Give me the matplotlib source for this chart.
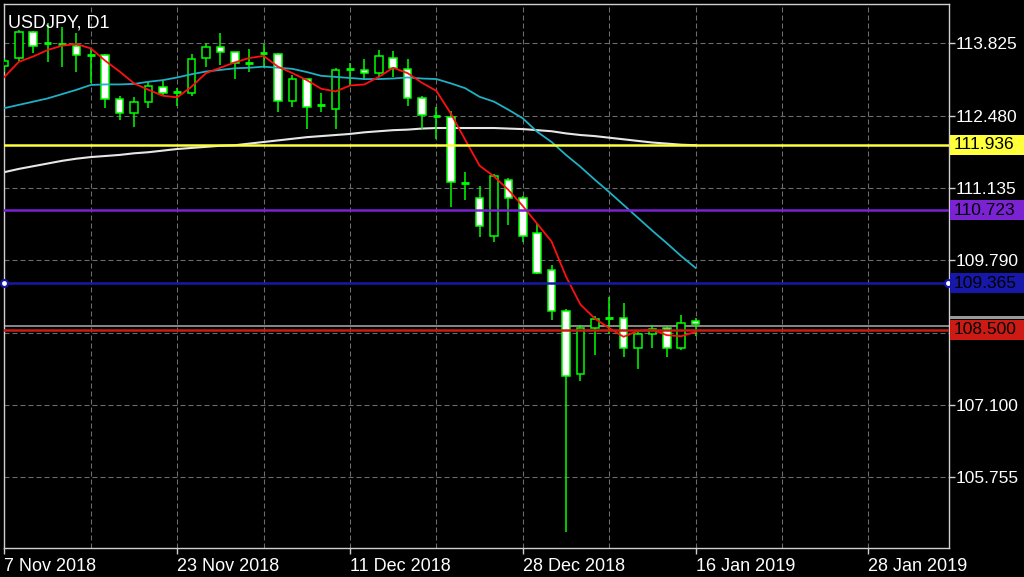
import matplotlib
matplotlib.use("Agg")
import matplotlib.pyplot as plt
from matplotlib.patches import Rectangle
from matplotlib.transforms import blended_transform_factory
import numpy as np

plt.rcParams['font.family'] = ['Liberation Sans', 'DejaVu Sans']

# ---------------- data ----------------
title = "USDJPY, D1"
opens  = [113.40,113.55,114.04,113.82,113.81,113.78,113.61,113.61,112.78,112.53,
          112.74,113.02,112.91,112.90,113.55,113.75,113.66,113.45,113.63,113.63,
          112.76,113.16,112.67,112.60,113.33,113.33,113.27,113.56,113.34,112.80,
          112.46,112.45,111.22,110.94,110.25,111.28,110.94,110.29,109.62,108.85,
          107.67,108.53,108.71,108.71,108.17,108.42,108.53,108.16,108.66]
highs  = [113.55,114.07,114.06,114.20,114.13,114.01,113.73,113.63,112.85,112.83,
          113.13,113.13,112.99,113.62,113.83,114.01,113.67,113.71,113.81,113.64,
          113.24,113.17,112.91,113.36,113.46,113.53,113.70,113.68,113.53,112.84,
          112.64,112.57,111.43,111.18,111.39,111.33,110.99,110.46,109.70,108.88,
          108.59,108.76,109.10,108.99,108.50,108.58,108.56,108.77,108.71]
lows   = [113.30,113.50,113.64,113.48,113.39,113.30,113.08,112.62,112.40,112.27,
          112.63,112.86,112.65,112.85,113.39,113.42,113.16,113.29,113.36,112.55,
          112.64,112.23,112.55,112.23,113.05,113.14,113.20,113.20,112.66,112.23,
          112.05,110.79,110.91,110.23,110.13,110.45,110.14,109.53,108.68,104.75,
          107.54,108.03,108.43,107.99,107.78,108.16,108.00,108.12,108.38]
closes = [113.50,114.03,113.78,113.84,113.82,113.61,113.62,112.79,112.53,112.73,
          113.03,112.91,112.92,113.53,113.75,113.66,113.45,113.46,113.64,112.76,
          113.16,112.64,112.68,113.32,113.35,113.28,113.59,113.36,112.80,112.49,
          112.47,111.25,111.23,110.42,111.35,110.94,110.25,109.55,108.85,107.65,
          108.53,108.70,108.72,108.17,108.42,108.51,108.16,108.62,108.61]

ma_red = [113.20,113.48,113.58,113.70,113.78,113.81,113.73,113.50,113.30,113.08,
          112.96,112.85,112.82,113.02,113.27,113.37,113.47,113.55,113.59,113.39,
          113.27,113.14,112.98,112.93,113.04,113.06,113.20,113.37,113.27,113.09,
          112.94,112.52,112.03,111.55,111.35,111.10,110.80,110.47,110.14,109.49,
          108.97,108.71,108.53,108.37,108.48,108.50,108.40,108.38,108.46]
ma_cyan = [112.62,112.68,112.74,112.80,112.88,112.96,113.05,113.06,113.06,113.07,
           113.11,113.14,113.19,113.25,113.30,113.33,113.36,113.37,113.39,113.37,
           113.35,113.29,113.22,113.20,113.18,113.16,113.16,113.17,113.19,113.17,
           113.16,113.08,112.99,112.83,112.74,112.59,112.43,112.18,111.99,111.75,
           111.53,111.29,111.06,110.82,110.58,110.34,110.11,109.87,109.65]
ma_white = [111.43,111.49,111.54,111.59,111.64,111.68,111.71,111.73,111.75,111.78,
            111.80,111.83,111.86,111.88,111.90,111.92,111.93,111.96,111.99,112.02,
            112.05,112.08,112.10,112.12,112.14,112.17,112.19,112.21,112.22,112.24,
            112.25,112.25,112.25,112.25,112.25,112.24,112.23,112.21,112.19,112.15,
            112.12,112.10,112.07,112.04,112.01,111.98,111.96,111.94,111.93]

price_ticks = [113.825, 112.480, 111.135, 109.790, 108.445, 107.100, 105.755]
price_tick_labels = ["113.825", "112.480", "111.135", "109.790", "", "107.100", "105.755"]
date_tick_pos = [0, 12, 24, 36, 48, 60]
date_tick_labels = ["7 Nov 2018", "23 Nov 2018", "11 Dec 2018", "28 Dec 2018",
                    "16 Jan 2019", "28 Jan 2019"]

level_prices = [111.936, 110.723, 109.365, 108.500]
level_labels = ["111.936", "110.723", "109.365", "108.500"]
level_colors = ["#ffff3c", "#7b22d2", "#1818a8", "#cc1a14"]
bid_price = 108.57

# ---------------- figure ----------------
W, H = 1024, 577
fig = plt.figure(figsize=(W / 100, H / 100), dpi=100, facecolor="black")
L, R, T, B = 4, 949, 4, 548
ax = fig.add_axes([L / W, (H - B) / H, (R - L) / W, (B - T) / H], facecolor="black")

ax.set_xlim(-0.03, 65.6)
ax.set_ylim(104.444, 114.555)
ppu = (B - T) / (114.555 - 104.444)   # pixels per price unit

grid_kw = dict(color="#6c6c6c", lw=0.8, dashes=(4.5, 2.7), zorder=1)
for p in price_ticks:
    ax.axhline(p, **grid_kw)
for i in range(6, 66, 6):
    ax.axvline(i, **grid_kw)

x = np.arange(len(opens))
green = "#00ff00"
bw = 0.52
for i in x:
    o, h, l, c = opens[i], highs[i], lows[i], closes[i]
    ax.vlines(i, l, h, color=green, lw=1.1, zorder=3)
    if abs(c - o) < 0.025:
        ax.hlines((o + c) / 2, i - bw / 2, i + bw / 2, color=green, lw=2.0, zorder=4)
    else:
        fc = "white" if c < o else "black"
        ax.add_patch(Rectangle((i - bw / 2, min(o, c)), bw, abs(c - o), facecolor=fc,
                               edgecolor=green, lw=1.1, zorder=4))

ax.plot(x, ma_white, color="#e6e6e6", lw=1.5, zorder=2)
ax.plot(x, ma_cyan, color="#1fb0c4", lw=1.3, zorder=5)
ax.plot(x, ma_red, color="#ff1010", lw=1.3, zorder=5)

# horizontal levels
ax.axhline(bid_price, color="#a0a0a0", lw=1.2, zorder=2)
for p, c in zip(level_prices, level_colors):
    ax.axhline(p, color=c, lw=1.8, zorder=6)
# handles on selected blue line
ax.plot([0.0, 65.55], [level_prices[2]] * 2, 'o', ms=5, mfc="white", mec=level_colors[2],
        mew=1.5, zorder=7, clip_on=False)

# spines
for s in ax.spines.values():
    s.set_color("#d0d0d0")
    s.set_linewidth(1.0)

# x ticks
ax.set_xticks(date_tick_pos)
ax.set_xticklabels(date_tick_labels, ha="left")
ax.tick_params(axis="x", colors="#d0d0d0", length=4, width=1, pad=3, labelsize=13,
               labelcolor="white")
# y ticks on right
ax.yaxis.tick_right()
ax.set_yticks(price_ticks)
ax.set_yticklabels(price_tick_labels)
ax.tick_params(axis="y", colors="#d0d0d0", length=4, width=1, pad=1, labelsize=12.5,
               labelcolor="white")

# label boxes on right price scale
tr = blended_transform_factory(fig.transFigure, ax.transData)
box_h = 19.5 / ppu
bx0, bw_fig = 950 / W, 74 / W
# bid box peeking above the red label
fig.add_artist(Rectangle((bx0, level_prices[3] + 10.7 / ppu), bw_fig, 2.6 / ppu,
                         transform=tr, facecolor="#9a9a9a", edgecolor="none",
                         clip_on=False))
for p, lab, c in zip(level_prices, level_labels, level_colors):
    fig.add_artist(Rectangle((bx0, p - box_h / 2), bw_fig, box_h, transform=tr,
                             facecolor=c, edgecolor="none", clip_on=False))
    fig.text(954 / W, p, lab, transform=tr, color="black", fontsize=12.5,
             va="center", ha="left")

ax.text(4 / (R - L), 1 - 10 / (B - T), title, transform=ax.transAxes, color="white",
        fontsize=13, va="top", ha="left", zorder=10)

fig.savefig("out.png", dpi=100, facecolor="black")
